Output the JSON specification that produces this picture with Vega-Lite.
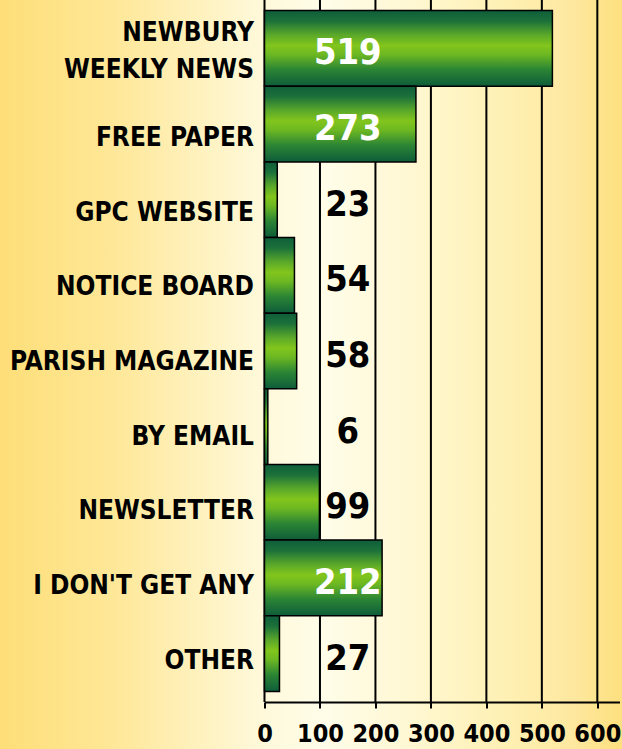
{
  "$schema": "https://vega.github.io/schema/vega-lite/v6.json",
  "autosize": {"type": "none"},
  "padding": {"left": 264.5, "top": 0, "right": 2.5, "bottom": 47},
  "width": 355,
  "height": 702,
  "background": "#FEF0B6",
  "datasets": {
    "counts": [
      {"source": "NEWBURY WEEKLY NEWS", "count": 519},
      {"source": "FREE PAPER", "count": 273},
      {"source": "GPC WEBSITE", "count": 23},
      {"source": "NOTICE BOARD", "count": 54},
      {"source": "PARISH MAGAZINE", "count": 58},
      {"source": "BY EMAIL", "count": 6},
      {"source": "NEWSLETTER", "count": 99},
      {"source": "I DON'T GET ANY", "count": 212},
      {"source": "OTHER", "count": 27}
    ],
    "gridlines": [
      {"tick": 0}, {"tick": 100}, {"tick": 200}, {"tick": 300}, {"tick": 400}, {"tick": 500}, {"tick": 600}
    ],
    "backdrop": [{"part": "background"}]
  },
  "config": {
    "font": "DejaVu Sans Condensed, Roboto",
    "view": {"stroke": null}
  },
  "resolve": {"scale": {"y": "independent"}},
  "layer": [
    {
      "data": {"name": "backdrop"},
      "mark": {
        "type": "rect",
        "fill": {
          "gradient": "linear",
          "x1": 0, "y1": 0, "x2": 1, "y2": 0,
          "stops": [
            {"offset": 0, "color": "#FDDE78"},
            {"offset": 0.18, "color": "#FEE797"},
            {"offset": 0.42, "color": "#FFF9DA"},
            {"offset": 0.52, "color": "#FFFDE9"},
            {"offset": 0.65, "color": "#FFF8D4"},
            {"offset": 0.82, "color": "#FEF0B2"},
            {"offset": 0.92, "color": "#FEE8A0"},
            {"offset": 1, "color": "#FDE07E"}
          ]
        }
      },
      "encoding": {
        "x": {"datum": -477, "type": "quantitative", "scale": {"domain": [0, 640], "nice": false, "zero": false}},
        "x2": {"datum": 645},
        "y": {"datum": -47, "type": "quantitative", "scale": {"domain": [0, 702], "nice": false, "zero": false}, "axis": null},
        "y2": {"datum": 702}
      }
    },
    {
      "layer": [
        {
          "data": {"name": "gridlines"},
          "mark": {"type": "rule", "color": "#000000", "strokeWidth": 2},
          "encoding": {
            "x": {"field": "tick", "type": "quantitative"}
          }
        },
        {
          "data": {"name": "counts"},
          "mark": {
            "type": "bar",
            "stroke": "#000000",
            "strokeWidth": 1.5,
            "fill": {
              "gradient": "linear",
              "x1": 0, "y1": 0, "x2": 0, "y2": 1,
              "stops": [
                {"offset": 0, "color": "#0F5E3A"},
                {"offset": 0.14, "color": "#1C713A"},
                {"offset": 0.32, "color": "#5AA82A"},
                {"offset": 0.46, "color": "#82C51C"},
                {"offset": 0.58, "color": "#6DB822"},
                {"offset": 0.78, "color": "#2B8534"},
                {"offset": 1, "color": "#0E5C3A"}
              ]
            }
          },
          "encoding": {
            "y": {
              "field": "source",
              "type": "nominal",
              "sort": null,
              "scale": {"paddingInner": 0, "paddingOuter": 0.14},
              "axis": {
                "zindex": 1,
                "title": null,
                "domain": false,
                "ticks": false,
                "grid": false,
                "labelFont": "DejaVu Sans Condensed, Roboto",
                "labelFontWeight": "bold",
                "labelFontSize": 26,
                "labelColor": "#000000",
                "labelPadding": 11,
                "labelLimit": 400,
                "labelLineHeight": 37,
                "labelOffset": {
                  "condition": [
                    {"test": "datum.value == 'NEWBURY WEEKLY NEWS'", "value": -15},
                    {"test": "datum.value == 'FREE PAPER'", "value": 14},
                    {"test": "datum.value == 'GPC WEBSITE'", "value": 13},
                    {"test": "datum.value == 'NOTICE BOARD'", "value": 12},
                    {"test": "datum.value == 'PARISH MAGAZINE'", "value": 11},
                    {"test": "datum.value == 'BY EMAIL'", "value": 10},
                    {"test": "datum.value == 'NEWSLETTER'", "value": 9},
                    {"test": "indexof(datum.value, 'GET ANY') >= 0", "value": 8}
                  ],
                  "value": 7
                },
                "labelExpr": "datum.value == 'NEWBURY WEEKLY NEWS' ? ['NEWBURY', 'WEEKLY NEWS'] : (indexof(datum.value, 'GET ANY') >= 0 ? datum.value + '\u00a0' : datum.value)"
              }
            },
            "x": {
              "field": "count",
              "type": "quantitative",
              "axis": {
                "zindex": 1,
                "title": null,
                "grid": false,
                "values": [0, 100, 200, 300, 400, 500, 600],
                "domain": true,
                "domainColor": "#000000",
                "domainWidth": 2,
                "ticks": true,
                "tickColor": "#000000",
                "tickWidth": 2,
                "tickSize": 6,
                "labelFont": "DejaVu Sans Condensed, Roboto",
                "labelFontWeight": "bold",
                "labelFontSize": 25,
                "labelColor": "#000000",
                "labelPadding": 13,
                "labelFlush": false,
                "labelOverlap": false
              }
            }
          }
        },
        {
          "data": {"name": "counts"},
          "mark": {
            "type": "text",
            "font": "DejaVu Sans Condensed, Roboto",
            "fontWeight": "bold",
            "fontSize": 36,
            "align": "center",
            "baseline": "middle",
            "dy": 5
          },
          "encoding": {
            "y": {"field": "source", "type": "nominal", "sort": null},
            "x": {"datum": 150, "type": "quantitative"},
            "text": {"field": "count", "type": "quantitative"},
            "color": {
              "condition": {"test": "datum.count > 150", "value": "#FFFFFF"},
              "value": "#000000"
            }
          }
        }
      ]
    }
  ]
}
